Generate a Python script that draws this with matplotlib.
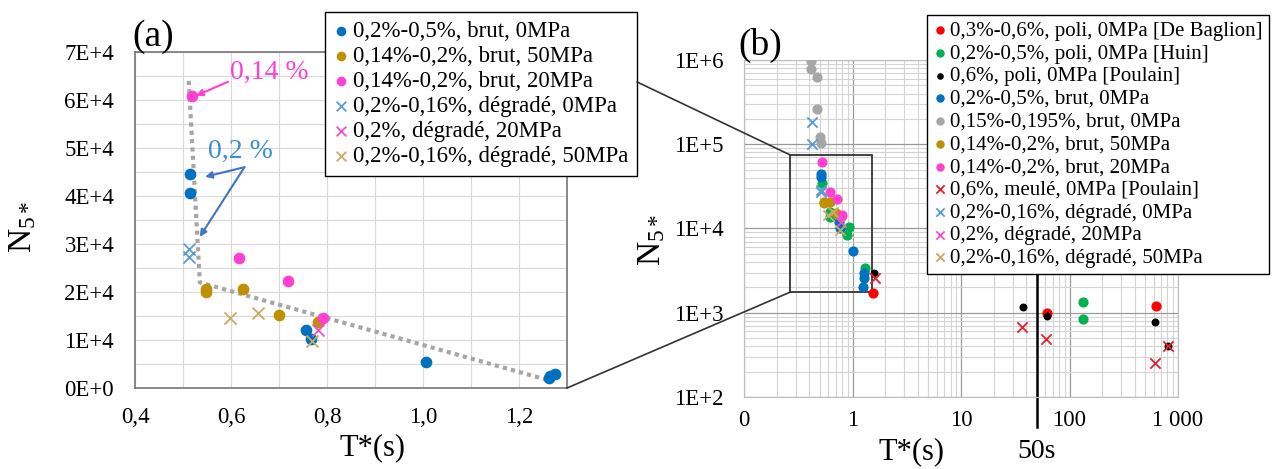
import matplotlib
matplotlib.use("Agg")
from matplotlib import pyplot as plt
from matplotlib.patches import Rectangle
from matplotlib.lines import Line2D
from matplotlib.ticker import MultipleLocator, LogLocator, NullFormatter
import matplotlib.transforms as mtransforms

plt.rcParams['font.family'] = ['Liberation Serif', 'DejaVu Serif']
plt.rcParams['mathtext.fontset'] = 'custom'
plt.rcParams['mathtext.rm'] = 'Liberation Serif'
plt.rcParams['mathtext.it'] = 'Liberation Serif:italic'

# --- data panel (a) ---
brut0_T = [0.515, 0.515, 0.756, 0.766, 1.006, 1.262, 1.265, 1.275]
brut0_N = [44600, 40600, 12100, 10200, 5400, 2000, 2600, 3000]
brut50_T = [0.548, 0.548, 0.625, 0.70, 0.781]
brut50_N = [20600, 20000, 20600, 15200, 13800]
brut20_T = [0.519, 0.617, 0.718, 0.792]
brut20_N = [60800, 27100, 22300, 14600]
deg0_T = [0.512, 0.512]
deg0_N = [29000, 27300]
deg20_T = [0.781]
deg20_N = [12100]
deg50_T = [0.598, 0.657, 0.768]
deg50_N = [14500, 15600, 9700]
trend_T = [0.512, 0.535, 1.255]
trend_N = [64000, 22000, 1800]

# --- extra data panel (b) ---
grey_T = [0.417, 0.417, 0.474, 0.474, 0.505, 0.515]
grey_N = [970000, 780000, 630000, 262000, 122000, 103000]
deg0b_T = deg0_T + [0.425, 0.425]
deg0b_N = deg0_N + [184000, 100700]
huin_T = [0.524, 0.625, 0.625, 0.925, 0.89, 1.29, 132, 132]
huin_N = [35000, 15800, 13600, 10300, 8400, 3380, 1350, 850]
baglion_T = [1.56, 62.5, 625]
baglion_N = [1700, 990, 1200]
poulain_T = [1.57, 37.5, 62.5, 620, 807]
poulain_N = [2960, 1170, 915, 780, 403]
meule_T = [1.6, 36.5, 61, 807, 620]
meule_N = [2580, 676, 490, 403, 252]

xticks_a = [0.4, 0.6, 0.8, 1.0, 1.2]
xlabels_a = ['0,4', '0,6', '0,8', '1,0', '1,2']
yticks_a = [0, 10000, 20000, 30000, 40000, 50000, 60000, 70000]
ylabels_a = ['0E+0', '1E+4', '2E+4', '3E+4', '4E+4', '5E+4', '6E+4', '7E+4']
xticks_b = [0.1, 1, 10, 100, 1000]
xlabels_b = ['0', '1', '10', '100', '1 000']
yticks_b = [1e2, 1e3, 1e4, 1e5, 1e6]
ylabels_b = ['1E+2', '1E+3', '1E+4', '1E+5', '1E+6']

BLUE = '#0070C0'
GOLD = '#BF9000'
PINK = '#FF40D0'
BLUEX = '#5B9BD5'
PINKX = '#F050D0'
GOLDX = '#C9AA62'
RED = '#FF0000'
GREEN = '#00B050'
GREY = '#A6A6A6'

fig = plt.figure(figsize=(12.76, 4.69), dpi=100)

# ---------------- (a) ----------------
ax_a = fig.add_axes([0.1058, 0.1727, 0.3386, 0.7164])
ax_a.plot(trend_T, trend_N, ls=(0, (1, 1)), color='#A6A6A6', lw=3, zorder=2)
h = []
h.append(ax_a.scatter(brut0_T, brut0_N, s=55, color=BLUE, zorder=3, label='0,2%-0,5%, brut, 0MPa'))
h.append(ax_a.scatter(brut50_T, brut50_N, s=55, color=GOLD, zorder=3, label='0,14%-0,2%, brut, 50MPa'))
h.append(ax_a.scatter(brut20_T, brut20_N, s=55, color=PINK, zorder=3, label='0,14%-0,2%, brut, 20MPa'))
h.append(ax_a.scatter(deg0_T, deg0_N, s=75, marker='x', lw=1.3, color=BLUEX, zorder=4, label='0,2%-0,16%, dégradé, 0MPa'))
h.append(ax_a.scatter(deg20_T, deg20_N, s=75, marker='x', lw=1.3, color=PINKX, zorder=4, label='0,2%, dégradé, 20MPa'))
h.append(ax_a.scatter(deg50_T, deg50_N, s=75, marker='x', lw=1.3, color=GOLDX, zorder=4, label='0,2%-0,16%, dégradé, 50MPa'))

ax_a.set_xlim(0.4, 1.3)
ax_a.set_ylim(0, 70000)
ax_a.set_xticks(xticks_a, xlabels_a)
ax_a.set_yticks(yticks_a, ylabels_a)
ax_a.xaxis.set_minor_locator(MultipleLocator(0.1))
ax_a.yaxis.set_minor_locator(MultipleLocator(5000))
ax_a.grid(True, which='both', color='#D9D9D9', lw=0.8)
ax_a.set_axisbelow(True)
ax_a.tick_params(which='both', length=0, labelsize=16.5)
ax_a.tick_params(axis='x', pad=14)
ax_a.tick_params(axis='y', pad=15)
for sp in ax_a.spines.values():
    sp.set_color('#767676')
    sp.set_linewidth(1.2)
ax_a.set_xlabel('T*(s)', fontsize=22)
ax_a.xaxis.set_label_coords(0.549, -0.134)
ax_a.set_ylabel(r'$\mathrm{N_{5*}}$', fontsize=24)
ax_a.yaxis.set_label_coords(-0.225, 0.479)
ax_a.text(-0.005, 1.045, '(a)', transform=ax_a.transAxes, fontsize=27, ha='left', va='center')

# annotations
ax_a.text(0.598, 65800, '0,14 %', color=PINK, fontsize=20, ha='left', va='center')
ax_a.annotate('', xy=(0.527, 60900), xytext=(0.594, 63800),
              arrowprops=dict(arrowstyle='-|>', color=PINK, lw=1.5, shrinkA=0, shrinkB=0))
ax_a.text(0.62, 49200, '0,2 %', color='#3C8DD6', fontsize=20, ha='center', va='center')
for tgt in [(0.546, 44000), (0.535, 31500)]:
    ax_a.annotate('', xy=tgt, xytext=(0.628, 46000),
                  arrowprops=dict(arrowstyle='-|>', color='#4472C4', lw=1.5, shrinkA=0, shrinkB=0))

leg_a = ax_a.legend(handles=h, loc='upper left', bbox_to_anchor=(325 / 1276, 1 - 12 / 469),
                    bbox_transform=fig.transFigure, fontsize=16.5, frameon=True, fancybox=False,
                    edgecolor='black', framealpha=1, borderaxespad=0, handlelength=0.6,
                    handletextpad=0.2, labelspacing=0.17, borderpad=0.4, markerscale=0.8)
leg_a.get_frame().set_linewidth(1)

# ---------------- (b) ----------------
ax_b = fig.add_axes([0.5831, 0.1535, 0.3401, 0.7186])
ax_b.set_xscale('log')
ax_b.set_yscale('log')
hb = []
hb.append(ax_b.scatter(baglion_T, baglion_N, s=40, color=RED, zorder=3, label='0,3%-0,6%, poli, 0MPa [De Baglion]'))
hb.append(ax_b.scatter(huin_T, huin_N, s=40, color=GREEN, zorder=3, label='0,2%-0,5%, poli, 0MPa [Huin]'))
hb.append(ax_b.scatter(poulain_T, poulain_N, s=22, color='black', zorder=3, label='0,6%, poli, 0MPa [Poulain]'))
hb.append(ax_b.scatter(brut0_T, brut0_N, s=40, color=BLUE, zorder=3, label='0,2%-0,5%, brut, 0MPa'))
hb.append(ax_b.scatter(grey_T, grey_N, s=40, color=GREY, zorder=3, label='0,15%-0,195%, brut, 0MPa'))
hb.append(ax_b.scatter(brut50_T, brut50_N, s=40, color=GOLD, zorder=3, label='0,14%-0,2%, brut, 50MPa'))
hb.append(ax_b.scatter(brut20_T, brut20_N, s=40, color=PINK, zorder=3, label='0,14%-0,2%, brut, 20MPa'))
hb.append(ax_b.scatter(meule_T, meule_N, s=55, marker='x', lw=1.3, color='#E8202A', zorder=4, label='0,6%, meulé, 0MPa [Poulain]'))
hb.append(ax_b.scatter(deg0b_T, deg0b_N, s=55, marker='x', lw=1.3, color=BLUEX, zorder=4, label='0,2%-0,16%, dégradé, 0MPa'))
hb.append(ax_b.scatter(deg20_T, deg20_N, s=55, marker='x', lw=1.3, color=PINKX, zorder=4, label='0,2%, dégradé, 20MPa'))
hb.append(ax_b.scatter(deg50_T, deg50_N, s=55, marker='x', lw=1.3, color=GOLDX, zorder=4, label='0,2%-0,16%, dégradé, 50MPa'))

ax_b.set_xlim(0.1, 1000)
ax_b.set_ylim(100, 1e6)
ax_b.set_xticks(xticks_b, xlabels_b)
ax_b.set_yticks(yticks_b, ylabels_b)
ax_b.xaxis.set_minor_locator(LogLocator(base=10, subs=range(2, 10)))
ax_b.yaxis.set_minor_locator(LogLocator(base=10, subs=range(2, 10)))
ax_b.xaxis.set_minor_formatter(NullFormatter())
ax_b.yaxis.set_minor_formatter(NullFormatter())
ax_b.grid(True, which='major', color='#9A9A9A', lw=0.9)
ax_b.grid(True, which='minor', color='#D4D4D4', lw=0.8)
ax_b.set_axisbelow(True)
ax_b.tick_params(which='both', length=0, labelsize=16.5)
ax_b.tick_params(axis='x', pad=9)
ax_b.tick_params(axis='y', pad=15)
for sp in ax_b.spines.values():
    sp.set_color('#BFBFBF')
ax_b.set_xlabel('T*(s)', fontsize=22)
ax_b.xaxis.set_label_coords(0.387, -0.119)
ax_b.set_ylabel(r'$\mathrm{N_{5*}}$', fontsize=24)
ax_b.yaxis.set_label_coords(-0.177, 0.466)
ax_b.text(-0.014, 1.042, '(b)', transform=ax_b.transAxes, fontsize=27, ha='left', va='center')

# 50 s marker
ax_b.axvline(50, ymin=-0.09, ymax=0.6, color='black', lw=1.8, clip_on=False, zorder=2)
trans = mtransforms.blended_transform_factory(ax_b.transData, ax_b.transAxes)
ax_b.text(50, -0.163, '50s', transform=trans, fontsize=20, ha='center', va='center')

# zoom box and connector lines
ax_b.add_patch(Rectangle((0.267, 1760), 1.5 - 0.267, 74500 - 1760, fill=False,
                         ec='#333333', lw=1.3, zorder=2.5))
to_fig = fig.transFigure.inverted()
for pa, pb in [((1.446, 63750), (0.267, 74500)), ((1.3, 0), (0.267, 1760))]:
    p1 = to_fig.transform(ax_a.transData.transform(pa))
    p2 = to_fig.transform(ax_b.transData.transform(pb))
    fig.add_artist(Line2D([p1[0], p2[0]], [p1[1], p2[1]], transform=fig.transFigure,
                          color='#333333', lw=1.2))

leg_b = ax_b.legend(handles=hb, loc='upper left', bbox_to_anchor=(927 / 1276, 1 - 15 / 469),
                    bbox_transform=fig.transFigure, fontsize=15, frameon=True, fancybox=False,
                    edgecolor='black', framealpha=1, borderaxespad=0, handlelength=0.6,
                    handletextpad=0.2, labelspacing=0.15, borderpad=0.3, markerscale=0.8)
leg_b.get_frame().set_linewidth(1)

fig.savefig('out.png', dpi=100)
